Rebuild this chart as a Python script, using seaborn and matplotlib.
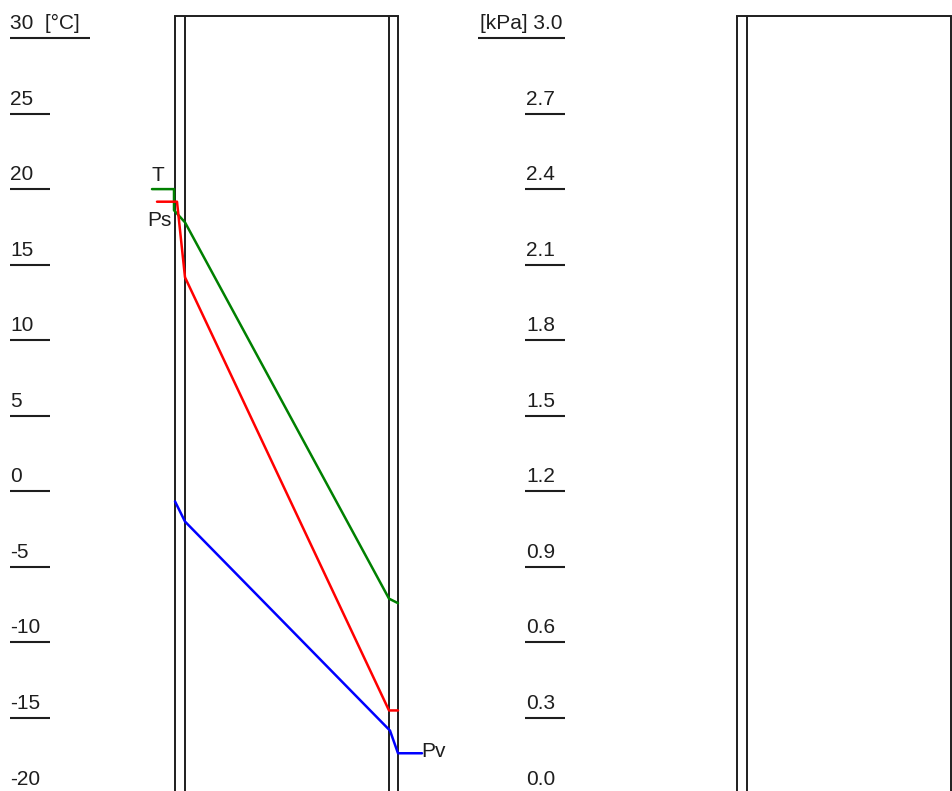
import numpy as np
import pandas as pd
import seaborn as sns
import matplotlib
matplotlib.use("Agg")
import matplotlib.pyplot as plt
import matplotlib.transforms as mtransforms

# ---- scales -------------------------------------------------------------
t_ticks = [30, 25, 20, 15, 10, 5, 0, -5, -10, -15, -20]
t_labels = ["30  [°C]", "25", "20", "15", "10", "5", "0", "-5", "-10", "-15", "-20"]
p_ticks = [3.0, 2.7, 2.4, 2.1, 1.8, 1.5, 1.2, 0.9, 0.6, 0.3, 0.0]
p_labels = ["[kPa] 3.0", "2.7", "2.4", "2.1", "1.8", "1.5", "1.2", "0.9", "0.6", "0.3", "0.0"]

# ---- wall geometry (horizontal drawing units) ---------------------------
wall_edges = [175, 185, 389, 398]
panel2_edges = [737, 747, 951]

# ---- profiles through the wall ------------------------------------------
temp_x = [152, 174, 174, 185, 389, 398]
temp_c = [20.0, 20.0, 18.6, 17.8, -7.1, -7.4]

ps_x = [157, 177, 185, 389, 398]
ps_kpa = [2.35, 2.35, 2.05, 0.33, 0.33]

pv_x = [175, 185, 390, 398, 422]
pv_kpa = [1.16, 1.08, 0.25, 0.16, 0.16]

sns.set_style("white")
plt.rcParams["font.family"] = ["Liberation Sans", "DejaVu Sans"]
plt.rcParams["font.size"] = 15

W, H = 952, 791
fig = plt.figure(figsize=(W / 100, H / 100), dpi=100)
fig.patch.set_facecolor("white")
ax = fig.add_axes([0, 0, 1, 1])
ax.set_xlim(0, W)

# 30 °C sits 38 px from the top, 45 °C span over 680 px
px_per_deg = 680 / 45
t_top = 30 + 38 / px_per_deg
t_bot = 30 - (H - 38) / px_per_deg
ax.set_ylim(t_bot, t_top)

ax2 = ax.twinx()
# 0 kPa <-> -20 °C, 3 kPa <-> 30 °C
to_kpa = lambda t: (t + 20) * 3.0 / 50
ax2.set_ylim(to_kpa(t_bot), to_kpa(t_top))
for a in (ax, ax2):
    a.axis("off")

ink = "#1e1e1e"


def shift(dx, dy):
    return mtransforms.ScaledTranslation(dx / 100, dy / 100, fig.dpi_scale_trans)


# ---- wall outlines -------------------------------------------------------
xt = ax.get_xaxis_transform()
top = 1 - 16 / H
for edges in (wall_edges, panel2_edges):
    for x in edges:
        ax.plot([x, x], [-0.02, top], transform=xt, color=ink, lw=1.4,
                solid_capstyle="butt")
    ax.plot([edges[0], edges[-1]], [top, top], transform=xt, color=ink, lw=1.4,
            solid_capstyle="projecting")

# ---- tick labels with underlines ----------------------------------------
for i, (v, lab) in enumerate(zip(t_ticks, t_labels)):
    ax.text(10, v, lab, transform=ax.transData + shift(0, 9), ha="left",
            va="baseline", color=ink)
    x1 = 90 if i == 0 else 50
    ax.plot([10, x1], [v, v], color=ink, lw=1.5, solid_capstyle="butt")

for i, (v, lab) in enumerate(zip(p_ticks, p_labels)):
    if i == 0:
        ax2.text(563, v, lab, transform=ax2.transData + shift(0, 9), ha="right",
                 va="baseline", color=ink)
        x0 = 478
    else:
        ax2.text(526, v, lab, transform=ax2.transData + shift(0, 9), ha="left",
                 va="baseline", color=ink)
        x0 = 525
    ax2.plot([x0, 565], [v, v], color=ink, lw=1.5, solid_capstyle="butt")

# ---- profiles ------------------------------------------------------------
temp_df = pd.DataFrame({"x": temp_x, "T": temp_c})
ps_df = pd.DataFrame({"x": ps_x, "P": ps_kpa})
pv_df = pd.DataFrame({"x": pv_x, "P": pv_kpa})

sns.lineplot(data=temp_df, x="x", y="T", ax=ax, color="#008000", lw=1.8,
             sort=False, estimator=None, legend=False)
sns.lineplot(data=ps_df, x="x", y="P", ax=ax2, color="#ff0000", lw=1.8,
             sort=False, estimator=None, legend=False)
sns.lineplot(data=pv_df, x="x", y="P", ax=ax2, color="#0000ff", lw=1.8,
             sort=False, estimator=None, legend=False)
for a in (ax, ax2):
    a.axis("off")
ax.set_xlim(0, W)
ax.set_ylim(t_bot, t_top)
ax2.set_ylim(to_kpa(t_bot), to_kpa(t_top))

# ---- curve names ---------------------------------------------------------
ax.text(temp_x[0] + 6, temp_c[0], "T", transform=ax.transData + shift(0, 8),
        ha="center", va="baseline", color=ink)
ax2.text(ps_x[0] + 2, ps_kpa[0], "Ps", transform=ax2.transData + shift(0, -24),
         ha="center", va="baseline", color=ink)
ax2.text(pv_x[-1] - 1, pv_kpa[-1], "Pv", transform=ax2.transData + shift(0, -4),
         ha="left", va="baseline", color=ink)

fig.savefig("out.png", dpi=100, facecolor="white")
